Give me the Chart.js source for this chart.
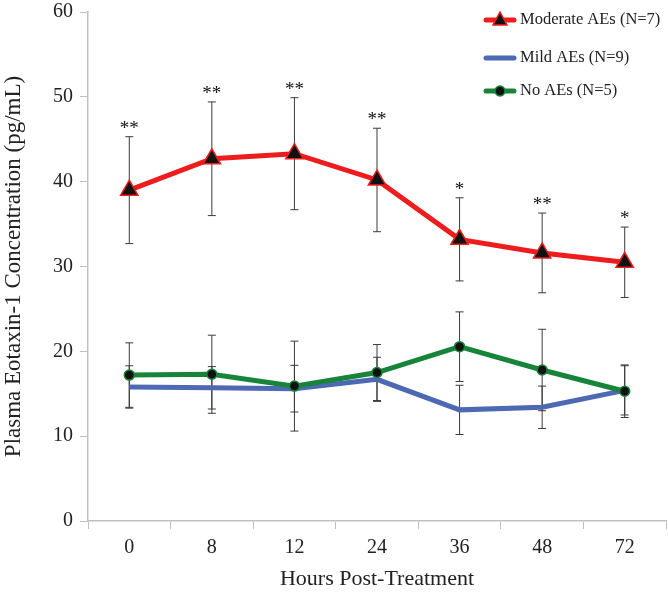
<!DOCTYPE html>
<html>
<head>
<meta charset="utf-8">
<script src="https://cdn.jsdelivr.net/npm/chart.js@4/dist/chart.umd.min.js"></script>
<style>
  html, body { margin: 0; padding: 0; background: #fff; }
  #wrap { width: 668px; height: 594px; }
</style>
</head>
<body>
<div id="wrap"><canvas id="line-chart"></canvas></div>
<script>
const categories = ['0', '8', '12', '24', '36', '48', '72'];
const yTicks = [0, 10, 20, 30, 40, 50, 60];

const moderateMean = [39.0, 42.7, 43.3, 40.2, 33.2, 31.6, 30.5];
const moderateSd = [6.3, 6.7, 6.6, 6.1, 4.9, 4.7, 4.15];

const mildMean = [15.8, 15.7, 15.6, 16.7, 13.1, 13.4, 15.4];
const mildSd = [2.5, 2.5, 2.75, 2.6, 2.9, 2.5, 2.9];

const noneMean = [17.2, 17.3, 15.9, 17.5, 20.55, 17.8, 15.3];
const noneSd = [3.8, 4.6, 5.3, 3.3, 4.1, 4.8, 3.1];

const significance = ['**', '**', '**', '**', '*', '**', '*'];

const serif = '"Liberation Serif", "DejaVu Serif", serif';

const errorBars = {
  id: 'errorBars',
  beforeDatasetsDraw(chart) {
    const ctx = chart.ctx;
    const y = chart.scales.y;
    ctx.save();
    ctx.strokeStyle = '#3a3a3a';
    ctx.lineWidth = 1;
    chart.data.datasets.forEach((ds, i) => {
      const meta = chart.getDatasetMeta(i);
      ds.sd.forEach((sd, j) => {
        const x = meta.data[j].x;
        const top = y.getPixelForValue(ds.data[j] + sd);
        const bot = y.getPixelForValue(ds.data[j] - sd);
        ctx.beginPath();
        ctx.moveTo(x, top); ctx.lineTo(x, bot);
        ctx.moveTo(x - 4, top); ctx.lineTo(x + 4, top);
        ctx.moveTo(x - 4, bot); ctx.lineTo(x + 4, bot);
        ctx.stroke();
      });
    });
    ctx.restore();
  },
  afterDatasetsDraw(chart) {
    const ctx = chart.ctx;
    const y = chart.scales.y;
    const meta = chart.getDatasetMeta(0);
    ctx.save();
    ctx.fillStyle = '#111';
    ctx.font = '19px ' + serif;
    ctx.textAlign = 'center';
    ctx.textBaseline = 'alphabetic';
    significance.forEach((s, j) => {
      const top = y.getPixelForValue(moderateMean[j] + moderateSd[j]);
      ctx.fillText(s, meta.data[j].x, top - 3);
    });
    ctx.restore();
  }
};

const sideLegend = {
  id: 'sideLegend',
  afterDraw(chart) {
    const ctx = chart.ctx;
    const rows = [20, 58, 91];
    ctx.save();
    ctx.font = '16.5px ' + serif;
    ctx.textBaseline = 'middle';
    chart.data.datasets.forEach((ds, i) => {
      const yy = rows[i];
      ctx.strokeStyle = ds.borderColor;
      ctx.lineWidth = 5;
      ctx.lineCap = 'round';
      ctx.beginPath();
      ctx.moveTo(486, yy); ctx.lineTo(514, yy);
      ctx.stroke();
      ctx.fillStyle = '#111';
      if (ds.pointStyle === 'triangle') {
        ctx.strokeStyle = ds.pointBorderColor;
        ctx.lineWidth = 1.5;
        ctx.beginPath();
        ctx.moveTo(500, yy - 8); ctx.lineTo(507, yy + 5); ctx.lineTo(493, yy + 5);
        ctx.closePath();
        ctx.fill(); ctx.stroke();
      } else if (ds.pointRadius > 0) {
        ctx.strokeStyle = ds.pointBorderColor;
        ctx.lineWidth = 1.5;
        ctx.beginPath();
        ctx.arc(500, yy, 5, 0, Math.PI * 2);
        ctx.fill(); ctx.stroke();
      }
      ctx.fillStyle = '#222';
      ctx.fillText(ds.label, 520, yy);
    });
    ctx.restore();
  }
};

const lineChartData = {
  labels: categories,
  datasets: [
    {
      label: 'Moderate AEs (N=7)',
      data: moderateMean,
      sd: moderateSd,
      borderColor: '#ee1c1c',
      borderWidth: 5,
      pointStyle: 'triangle',
      pointRadius: 10,
      pointBackgroundColor: '#111',
      pointBorderColor: '#ee1c1c',
      pointBorderWidth: 1.5,
      order: 0,
    },
    {
      label: 'Mild AEs (N=9)',
      data: mildMean,
      sd: mildSd,
      borderColor: '#4d69b3',
      borderWidth: 5,
      pointRadius: 0,
      order: 2,
    },
    {
      label: 'No AEs (N=5)',
      data: noneMean,
      sd: noneSd,
      borderColor: '#17843a',
      borderWidth: 5,
      pointStyle: 'circle',
      pointRadius: 5,
      pointBackgroundColor: '#111',
      pointBorderColor: '#17843a',
      pointBorderWidth: 1.5,
      order: 1,
    },
  ],
};

const lineChartOption = {
  responsive: true,
  maintainAspectRatio: false,
  animation: false,
  layout: { autoPadding: false, padding: { top: 12, right: 2, left: 0, bottom: 0 } },
  plugins: { legend: { display: false }, tooltip: { enabled: false } },
  scales: {
    x: {
      offset: true,
      grid: { display: true, drawOnChartArea: false, color: '#c0c0c0', tickLength: 8, offset: true },
      border: { color: '#c0c0c0', width: 1.5 },
      ticks: { color: '#222', font: { family: serif, size: 20 }, padding: 7 },
      title: { display: true, text: 'Hours Post-Treatment', color: '#222', font: { family: serif, size: 22 }, padding: { top: 2, bottom: 2 } },
      afterFit(scale) {
        scale.height = 73;
        scale.paddingLeft = 0;
        scale.paddingRight = 0;
      },
    },
    y: {
      min: 0,
      max: 60,
      afterBuildTicks(scale) { scale.ticks = yTicks.map(v => ({ value: v })); },
      grid: { display: true, drawOnChartArea: false, color: '#c0c0c0', tickLength: 8 },
      border: { color: '#c0c0c0', width: 1.5 },
      ticks: { color: '#222', font: { family: serif, size: 20 }, padding: 7 },
      title: { display: true, text: 'Plasma Eotaxin-1 Concentration (pg/mL)', color: '#222', font: { family: serif, size: 23 }, padding: { top: 0, bottom: 4 } },
      afterFit(scale) {
        scale.width = 88;
        scale.paddingTop = 0;
        scale.paddingBottom = 0;
      },
    },
  },
};

const lineChartContext = document.getElementById('line-chart').getContext('2d');
new Chart(lineChartContext, {
  type: 'line',
  data: lineChartData,
  options: lineChartOption,
  plugins: [errorBars, sideLegend],
});
</script>
</body>
</html>
